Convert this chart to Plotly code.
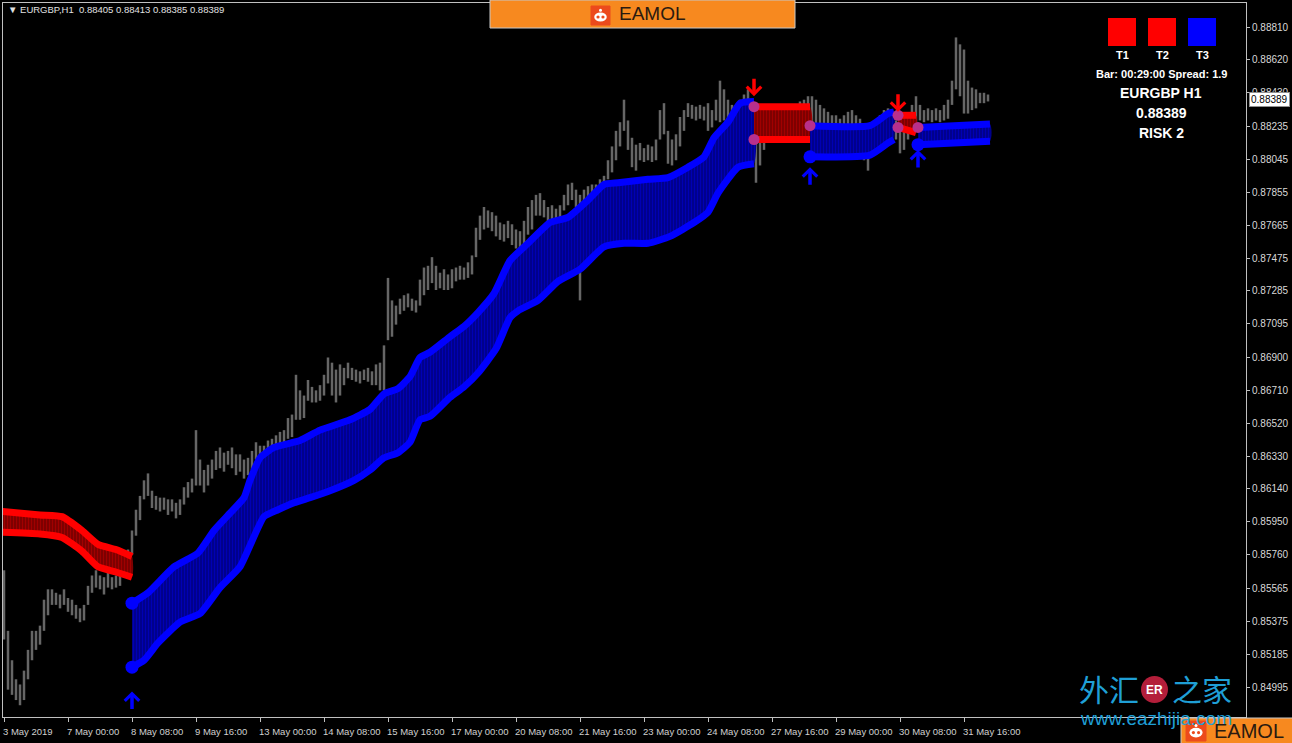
import plotly.graph_objects as go

# ---------------- axis labels ----------------
x_tick_bars = [0, 32, 64, 96, 128, 160, 192, 224, 256, 288, 320, 352, 384, 416, 448, 480]
x_tick_labels = ["3 May 2019", "7 May 00:00", "8 May 08:00", "9 May 16:00", "13 May 00:00",
                 "14 May 08:00", "15 May 16:00", "17 May 00:00", "20 May 08:00", "21 May 16:00",
                 "23 May 00:00", "24 May 08:00", "27 May 16:00", "29 May 00:00", "30 May 08:00",
                 "31 May 16:00"]
y_tick_labels = ["0.88810", "0.88620", "0.88430", "0.88235", "0.88045", "0.87855", "0.87665",
                 "0.87475", "0.87285", "0.87095", "0.86900", "0.86710", "0.86520", "0.86330",
                 "0.86140", "0.85950", "0.85760", "0.85565", "0.85375", "0.85185", "0.84995"]

# ---------------- price bars (every 2nd H1 bar: high / low) ----------------
bar_high = [
    0.8567, 0.8532, 0.8515, 0.8504, 0.8501, 0.8509, 0.8521, 0.8532, 0.8532, 0.8535,
    0.8550, 0.8556, 0.8556, 0.8554, 0.8553, 0.8556, 0.8551, 0.8550, 0.8547, 0.8545,
    0.8547, 0.8558, 0.8564, 0.8567, 0.8564, 0.8563, 0.8566, 0.8563, 0.8564, 0.8570,
    0.8574, 0.8579, 0.8590, 0.8602, 0.8610, 0.8619, 0.8623, 0.8613, 0.8610, 0.8609,
    0.8609, 0.8608, 0.8608, 0.8606, 0.8608, 0.8615, 0.8618, 0.8620, 0.8648, 0.8631,
    0.8625, 0.8628, 0.8631, 0.8636, 0.8638, 0.8635, 0.8636, 0.8638, 0.8634, 0.8634,
    0.8631, 0.8632, 0.8636, 0.8641, 0.8639, 0.8639, 0.8642, 0.8643, 0.8645, 0.8647,
    0.8648, 0.8655, 0.8657, 0.8680, 0.8671, 0.8668, 0.8677, 0.8673, 0.8671, 0.8674,
    0.8680, 0.8690, 0.8687, 0.8683, 0.8686, 0.8684, 0.8687, 0.8684, 0.8683, 0.8682,
    0.8683, 0.8684, 0.8682, 0.8686, 0.8687, 0.8697, 0.8736, 0.8723, 0.8720, 0.8724,
    0.8726, 0.8727, 0.8724, 0.8723, 0.8735, 0.8742, 0.8743, 0.8748, 0.8743, 0.8739,
    0.8741, 0.8738, 0.8741, 0.8742, 0.8743, 0.8742, 0.8745, 0.8749, 0.8765, 0.8772,
    0.8777, 0.8775, 0.8774, 0.8772, 0.8768, 0.8767, 0.8769, 0.8767, 0.8764, 0.8763,
    0.8769, 0.8777, 0.8781, 0.8784, 0.8785, 0.8781, 0.8777, 0.8778, 0.8776, 0.8778,
    0.8784, 0.8790, 0.8791, 0.8787, 0.8784, 0.8787, 0.8789, 0.8790, 0.8790, 0.8793,
    0.8795, 0.8804, 0.8812, 0.8821, 0.8826, 0.8839, 0.8827, 0.8817, 0.8813, 0.8814,
    0.8811, 0.8813, 0.8812, 0.8816, 0.8833, 0.8837, 0.8821, 0.8816, 0.8819, 0.8829,
    0.8833, 0.8837, 0.8836, 0.8835, 0.8836, 0.8835, 0.8837, 0.8833, 0.8839, 0.8850,
    0.8845, 0.8839, 0.8836, 0.8836, 0.8839, 0.8842, 0.8845, 0.8830, 0.8816, 0.8821,
    0.8824, 0.8830, 0.8833, 0.8836, 0.8836, 0.8834, 0.8833, 0.8834, 0.8836, 0.8838,
    0.8839, 0.8841, 0.8841, 0.8839, 0.8836, 0.8834, 0.8832, 0.8830, 0.8830, 0.8828,
    0.8830, 0.8832, 0.8833, 0.8830, 0.8828, 0.8816, 0.8810, 0.8821, 0.8827, 0.8830,
    0.8833, 0.8834, 0.8832, 0.8827, 0.8821, 0.8824, 0.8830, 0.8836, 0.8841, 0.8836,
    0.8833, 0.8834, 0.8833, 0.8834, 0.8833, 0.8836, 0.8839, 0.8850, 0.8875, 0.8871,
    0.8868, 0.8850, 0.8846, 0.8845, 0.8843, 0.8843, 0.8842]
bar_low = [
    0.8527, 0.8498, 0.8495, 0.8492, 0.8489, 0.8492, 0.8504, 0.8515, 0.8521, 0.8524,
    0.8532, 0.8541, 0.8547, 0.8547, 0.8545, 0.8547, 0.8543, 0.8541, 0.8539, 0.8537,
    0.8538, 0.8547, 0.8554, 0.8557, 0.8556, 0.8553, 0.8557, 0.8556, 0.8557, 0.8558,
    0.8563, 0.8567, 0.8576, 0.8587, 0.8596, 0.8608, 0.8610, 0.8603, 0.8602, 0.8601,
    0.8602, 0.8599, 0.8601, 0.8597, 0.8599, 0.8605, 0.8609, 0.8612, 0.8616, 0.8616,
    0.8612, 0.8616, 0.8620, 0.8625, 0.8626, 0.8624, 0.8628, 0.8626, 0.8622, 0.8624,
    0.8620, 0.8622, 0.8625, 0.8631, 0.8632, 0.8634, 0.8635, 0.8636, 0.8638, 0.8639,
    0.8641, 0.8643, 0.8644, 0.8654, 0.8654, 0.8655, 0.8665, 0.8664, 0.8664, 0.8665,
    0.8668, 0.8675, 0.8668, 0.8664, 0.8668, 0.8674, 0.8678, 0.8677, 0.8676, 0.8675,
    0.8677, 0.8676, 0.8674, 0.8674, 0.8671, 0.8671, 0.8700, 0.8702, 0.8709, 0.8715,
    0.8717, 0.8719, 0.8717, 0.8716, 0.8720, 0.8726, 0.8729, 0.8733, 0.8729, 0.8730,
    0.8729, 0.8729, 0.8730, 0.8734, 0.8735, 0.8735, 0.8736, 0.8738, 0.8748, 0.8758,
    0.8764, 0.8765, 0.8763, 0.8760, 0.8758, 0.8757, 0.8759, 0.8755, 0.8753, 0.8752,
    0.8755, 0.8761, 0.8764, 0.8772, 0.8772, 0.8771, 0.8768, 0.8769, 0.8768, 0.8771,
    0.8775, 0.8778, 0.8781, 0.8777, 0.8723, 0.8778, 0.8779, 0.8781, 0.8782, 0.8784,
    0.8787, 0.8793, 0.8797, 0.8804, 0.8812, 0.8821, 0.8810, 0.8800, 0.8798, 0.8804,
    0.8803, 0.8804, 0.8803, 0.8804, 0.8816, 0.8819, 0.8802, 0.8801, 0.8804, 0.8812,
    0.8821, 0.8829, 0.8828, 0.8827, 0.8828, 0.8827, 0.8821, 0.8823, 0.8827, 0.8826,
    0.8827, 0.8824, 0.8821, 0.8819, 0.8824, 0.8830, 0.8833, 0.8810, 0.8791, 0.8801,
    0.8810, 0.8816, 0.8821, 0.8824, 0.8824, 0.8823, 0.8821, 0.8824, 0.8826, 0.8827,
    0.8828, 0.8827, 0.8826, 0.8824, 0.8824, 0.8823, 0.8821, 0.8819, 0.8820, 0.8819,
    0.8821, 0.8823, 0.8824, 0.8821, 0.8819, 0.8804, 0.8798, 0.8810, 0.8816, 0.8819,
    0.8821, 0.8824, 0.8821, 0.8816, 0.8808, 0.8810, 0.8816, 0.8821, 0.8823, 0.8827,
    0.8826, 0.8827, 0.8826, 0.8827, 0.8826, 0.8827, 0.8828, 0.8836, 0.8845, 0.8841,
    0.8831, 0.8831, 0.8833, 0.8834, 0.8837, 0.8837, 0.8838]
bar_index = list(range(0, 2 * len(bar_high), 2))

# ---------------- trend bands ----------------
red1_x = [-1, 18, 29, 39, 47, 56, 64]
red1_up = [0.8601, 0.8599, 0.8598, 0.8590, 0.8582, 0.8579, 0.8575]
red1_lo = [0.8589, 0.8588, 0.8586, 0.8578, 0.8569, 0.8566, 0.8563]

blue1_up_x = [64, 72, 85, 97, 105, 113, 120, 123, 128, 135, 148, 158, 173, 183, 190, 197, 203, 208,
              213, 223, 230, 237, 245, 253, 262, 273, 282, 292, 300, 307, 322, 332, 342, 350, 355,
              362, 368, 375]
blue1_up = [0.8548, 0.8554, 0.8569, 0.8577, 0.8590, 0.8600, 0.8609, 0.8619, 0.8632, 0.8638, 0.8642,
            0.8648, 0.8654, 0.8660, 0.8669, 0.8672, 0.8679, 0.8690, 0.8693, 0.8702, 0.8708, 0.8716,
            0.8727, 0.8746, 0.8756, 0.8768, 0.8771, 0.8781, 0.8790, 0.8791, 0.8793, 0.8794, 0.8800,
            0.8806, 0.8817, 0.8826, 0.8837, 0.8838]
blue1_lo_x = [64, 70, 77, 88, 98, 108, 118, 130, 137, 145, 153, 163, 175, 183, 190, 197, 203, 208,
              213, 223, 230, 237, 246, 253, 257, 267, 277, 288, 300, 310, 322, 333, 345, 352, 357,
              367, 375]
blue1_lo = [0.8511, 0.8515, 0.8525, 0.8537, 0.8542, 0.8557, 0.8569, 0.8598, 0.8602, 0.8606, 0.8609,
            0.8613, 0.8619, 0.8625, 0.8632, 0.8635, 0.8641, 0.8654, 0.8656, 0.8667, 0.8673, 0.8681,
            0.8695, 0.8713, 0.8717, 0.8723, 0.8734, 0.8741, 0.8754, 0.8756, 0.8756, 0.8760, 0.8768,
            0.8774, 0.8785, 0.8800, 0.8802]

red2_x = [375, 403]
red2_up = [0.8835, 0.8835]
red2_lo = [0.8816, 0.8816]

blue2_x = [403, 433, 442, 445]
blue2_up = [0.8824, 0.8824, 0.8831, 0.8832]
blue2_lo = [0.8806, 0.8807, 0.8814, 0.8816]

red3_x = [447, 456]
red3_up = [0.8830, 0.8830]
red3_lo = [0.8823, 0.8820]

blue3_x = [457, 493]
blue3_up = [0.8823, 0.8825]
blue3_lo = [0.8813, 0.8815]

# ---------------- signals ----------------
buy_x = [64, 403, 457]
buy_y = [0.8497, 0.8800, 0.8810]
sell_x = [375, 447]
sell_y = [0.8841, 0.8832]
blue_dot_x = [64, 64, 403, 457]
blue_dot_y = [0.8548, 0.8511, 0.8806, 0.8813]
mixed_dot_x = [375, 375, 403, 447, 447, 457]
mixed_dot_y = [0.8835, 0.8816, 0.8824, 0.8830, 0.8823, 0.8823]

last_close = 0.88389
header_text = "EURGBP,H1\u00a0\u00a00.88405 0.88413 0.88385 0.88389"
panel_lines = ["Bar: 00:29:00 Spread: 1.9", "EURGBP H1", "0.88389", "RISK 2"]
trend_labels = ["T1", "T2", "T3"]

# ---------------- geometry helpers (pixel -> paper) ----------------
PL, PR, PT, PB = 3, 1246, 3, 717


def fx(px):
    return (px - PL) / (PR - PL)


def fy(py):
    return (PB - py) / (PB - PT)


BLUE = "#0000ff"
RED = "#ff0000"

fig = go.Figure()

# price bars
xs, ys = [], []
for x, h, l in zip(bar_index, bar_high, bar_low):
    xs += [x, x, None]
    ys += [l, h, None]
fig.add_trace(go.Scatter(x=xs, y=ys, mode="lines", line=dict(color="#666666", width=2.5),
                         hoverinfo="skip"))


def add_band(xu, up, xl, lo, line_color, bg, fg):
    fig.add_trace(go.Scatter(
        x=list(xu) + list(xl)[::-1], y=list(up) + list(lo)[::-1],
        mode="lines", fill="toself", line=dict(width=0, shape="spline", smoothing=0.5),
        fillcolor=bg,
        fillpattern=dict(shape="|", bgcolor=bg, fgcolor=fg, size=3, solidity=0.4),
        hoverinfo="skip"))
    for xx, yy in ((xu, up), (xl, lo)):
        fig.add_trace(go.Scatter(x=xx, y=yy, mode="lines",
                                 line=dict(color=line_color, width=7, shape="spline", smoothing=0.5),
                                 hoverinfo="skip"))


add_band(red1_x, red1_up, red1_x, red1_lo, RED, "#7a0000", "#c80000")
add_band(blue1_up_x, blue1_up, blue1_lo_x, blue1_lo, BLUE, "#000088", "#0000e0")
add_band(red2_x, red2_up, red2_x, red2_lo, RED, "#7a0000", "#c80000")
add_band(blue2_x, blue2_up, blue2_x, blue2_lo, BLUE, "#000088", "#0000e0")
add_band(red3_x, red3_up, red3_x, red3_lo, RED, "#7a0000", "#c80000")
add_band(blue3_x, blue3_up, blue3_x, blue3_lo, BLUE, "#000088", "#0000e0")

fig.add_trace(go.Scatter(x=blue_dot_x, y=blue_dot_y, mode="markers",
                         marker=dict(color=BLUE, size=13), hoverinfo="skip"))
fig.add_trace(go.Scatter(x=mixed_dot_x, y=mixed_dot_y, mode="markers",
                         marker=dict(color="#b8308c", size=11), hoverinfo="skip"))

annotations = []
for x, y in zip(buy_x, buy_y):
    annotations.append(dict(x=x, y=y, xref="x", yref="y", text="", showarrow=True,
                            ax=0, ay=19, arrowhead=4, arrowsize=0.8, arrowwidth=3.5,
                            arrowcolor=BLUE))
for x, y in zip(sell_x, sell_y):
    annotations.append(dict(x=x, y=y, xref="x", yref="y", text="", showarrow=True,
                            ax=0, ay=-19, arrowhead=4, arrowsize=0.8, arrowwidth=3.5,
                            arrowcolor=RED))

# x tick labels (left aligned like MT4)
for b, t in zip(x_tick_bars, x_tick_labels):
    annotations.append(dict(x=b, y=fy(731), xref="x", yref="paper", text=t, showarrow=False,
                            xanchor="left", yanchor="middle", xshift=-3,
                            font=dict(family="Liberation Sans", size=9.5, color="#d0d0d0")))

# current price label
annotations.append(dict(x=1, y=last_close, xref="paper", yref="y", text="%.5f" % last_close,
                        showarrow=False, xanchor="left", yanchor="middle", xshift=3,
                        bgcolor="white", bordercolor="#909090", borderwidth=1, borderpad=1,
                        font=dict(family="Liberation Sans", size=10, color="black")))

# header text
annotations.append(dict(x=fx(6), y=fy(10), xref="paper", yref="paper", text="▼ " + header_text,
                        showarrow=False, xanchor="left", yanchor="middle",
                        font=dict(family="Liberation Sans", size=9.5, color="#e0e0e0")))

shapes = []
# T1/T2/T3 boxes
box_colors = [RED, RED, BLUE]
for i, (lab, col) in enumerate(zip(trend_labels, box_colors)):
    x0 = 1108 + 40 * i
    shapes.append(dict(type="rect", xref="paper", yref="paper", x0=fx(x0), x1=fx(x0 + 28),
                       y0=fy(46), y1=fy(18), fillcolor=col, line=dict(width=0), layer="above"))
    annotations.append(dict(x=fx(x0 + 14), y=fy(55), xref="paper", yref="paper", text="<b>%s</b>" % lab,
                            showarrow=False, xanchor="center", yanchor="middle",
                            font=dict(family="Liberation Sans", size=11, color="white")))
panel_y = [74, 93, 113, 133]
panel_size = [11, 14, 14, 14]
for t, py, sz in zip(panel_lines, panel_y, panel_size):
    annotations.append(dict(x=fx(1161), y=fy(py), xref="paper", yref="paper", text="<b>%s</b>" % t,
                            showarrow=False, xanchor="center", yanchor="middle",
                            font=dict(family="Liberation Sans", size=sz, color="white")))


# logo boxes
def logo(x0, x1, y0, y1, icon_x, icon_y, icon_s, text_x, text_size):
    shapes.append(dict(type="rect", xref="paper", yref="paper", x0=fx(x0), x1=fx(x1), y0=fy(y1), y1=fy(y0),
                       fillcolor="#f7891f", line=dict(color="#c8c8c8", width=1), layer="above"))
    shapes.append(dict(type="rect", xref="paper", yref="paper", x0=fx(icon_x), x1=fx(icon_x + icon_s),
                       y0=fy(icon_y + icon_s), y1=fy(icon_y), fillcolor="#ec4a1c",
                       line=dict(color="#ec4a1c", width=1), layer="above"))
    cx, cy = icon_x + icon_s / 2, icon_y + icon_s * 0.58
    shapes.append(dict(type="circle", xref="paper", yref="paper", x0=fx(cx - icon_s * 0.33),
                       x1=fx(cx + icon_s * 0.33), y0=fy(cy + icon_s * 0.24), y1=fy(cy - icon_s * 0.24),
                       fillcolor="white", line=dict(width=0), layer="above"))
    for dx in (-0.13, 0.13):
        shapes.append(dict(type="circle", xref="paper", yref="paper", x0=fx(cx + dx * icon_s - 1.6),
                           x1=fx(cx + dx * icon_s + 1.6), y0=fy(cy + 1.6), y1=fy(cy - 1.6),
                           fillcolor="#ec4a1c", line=dict(width=0), layer="above"))
    shapes.append(dict(type="circle", xref="paper", yref="paper", x0=fx(cx - 1.5), x1=fx(cx + 1.5),
                       y0=fy(icon_y + icon_s * 0.3), y1=fy(icon_y + icon_s * 0.3 - 3),
                       fillcolor="white", line=dict(width=0), layer="above"))
    annotations.append(dict(x=fx(text_x), y=fy((y0 + y1) / 2), xref="paper", yref="paper",
                            text="EAMOL", showarrow=False, xanchor="left",
                            yanchor="middle",
                            font=dict(family="Liberation Sans", size=text_size, color="#2a1a10")))


# watermark
annotations.append(dict(x=fx(1077), y=fy(688), xref="paper", yref="paper", text="外汇", showarrow=False,
                        xanchor="left", yanchor="middle",
                        font=dict(family="Noto Sans CJK SC", size=30, color="#1f9fd6")))
annotations.append(dict(x=fx(1234), y=fy(688), xref="paper", yref="paper", text="之家", showarrow=False,
                        xanchor="right", yanchor="middle",
                        font=dict(family="Noto Sans CJK SC", size=30, color="#1f9fd6")))
shapes.append(dict(type="circle", xref="paper", yref="paper", x0=fx(1141), x1=fx(1168), y0=fy(703),
                   y1=fy(676), fillcolor="#b31e3a", line=dict(width=0), layer="above"))
annotations.append(dict(x=fx(1154.5), y=fy(689.5), xref="paper", yref="paper", text="<b>ER</b>",
                        showarrow=False, xanchor="center", yanchor="middle",
                        font=dict(family="Liberation Sans", size=12, color="white")))
annotations.append(dict(x=fx(1078), y=fy(718), xref="paper", yref="paper", text="www.eazhijia.com",
                        showarrow=False, xanchor="left", yanchor="middle",
                        font=dict(family="Liberation Sans", size=19, color="#1f9fd6")))

logo(490, 795, 0, 28, 591, 6, 19, 617, 19)
logo(1181, 1293, 718, 744, 1186, 721, 20, 1212, 20)

fig.update_layout(
    width=1292, height=743, margin=dict(l=PL, r=1292 - PR, t=PT, b=743 - PB),
    paper_bgcolor="black", plot_bgcolor="black", showlegend=False,
    xaxis=dict(range=[-0.5, 621], showgrid=False, zeroline=False, showline=True, linecolor="#c0c0c0",
               linewidth=1, mirror=True, tickvals=x_tick_bars, ticks="outside", ticklen=4,
               tickcolor="#c0c0c0", showticklabels=False, fixedrange=True),
    yaxis=dict(range=[0.84822, 0.88949], side="right", tickvals=[float(t) for t in y_tick_labels],
               ticktext=y_tick_labels, ticks="outside", ticklen=3, tickcolor="#c0c0c0",
               tickfont=dict(family="Liberation Sans", size=10, color="#d8d8d8"), showgrid=False,
               zeroline=False, showline=True, linecolor="#c0c0c0", linewidth=1, mirror=True),
    annotations=annotations, shapes=shapes,
)

fig.write_html("out.html", config={"displayModeBar": False},
               post_script="document.body.style.margin='0px';")
